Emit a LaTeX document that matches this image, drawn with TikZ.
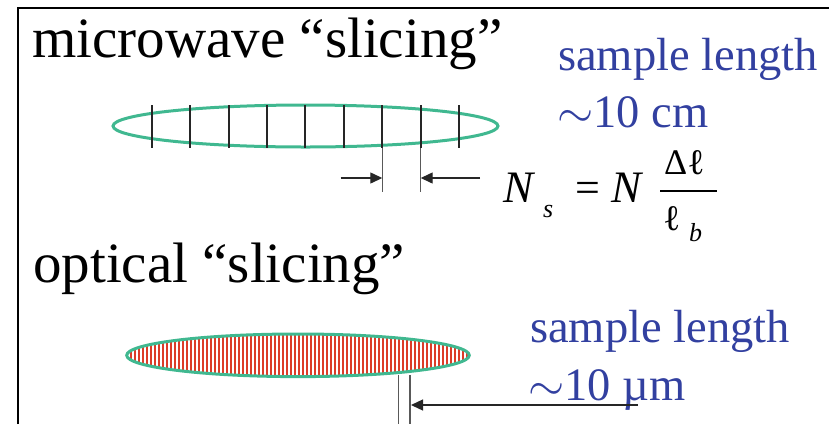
\RequirePackage{fix-cm}
\documentclass[tikz,border=0pt]{standalone}
\usepackage{fontspec}
\setmainfont{Liberation Serif}
\usetikzlibrary{arrows.meta}
\definecolor{blu}{RGB}{50,64,160}
\definecolor{grn}{RGB}{64,184,144}
\definecolor{stripered}{RGB}{220,60,40}
\tikzset{
  head/.style={anchor=base west,inner sep=0pt,font=\fontsize{57}{60}\selectfont},
  lbl/.style={anchor=base west,inner sep=0pt,text=blu,font=\fontsize{46.5}{50}\selectfont},
  fml/.style={anchor=base west,inner sep=0pt},
  tickline/.style={line width=2pt,black!85},
  extline/.style={line width=1.1pt,black!65},
  arr/.style={line width=1.3pt,black!85,-{Triangle[length=12pt,width=11pt]}},
  sampleoutline/.style={grn,line width=3pt}
}
\begin{document}
\begin{tikzpicture}[x=1pt,y=-1pt]
\useasboundingbox (0,0) rectangle (829,424);
% frame
\draw[line width=1.5pt] (18,424) -- (18,8) -- (829,8);
% texts
\node[head] (mw) at (32,57) {microwave “slicing”};
\node[head] (op) at (33,282) {optical “slicing”};
\node[lbl] (sl1) at (558,70) {sample length};
\node[lbl] (cm) at (557,127) {$\sim$10 cm};
\node[lbl] (sl2) at (530,342) {sample length};
\node[lbl] (um) at (528,400) {$\sim$10 µm};
% microwave sample
\draw[sampleoutline] (305.5,126) ellipse [x radius=192.5, y radius=21];
\foreach \i in {0,...,8} \draw[tickline] (151.7+38.4*\i,105) -- ++(0,43);
\coordinate (e1t) at (382.3,148);
\coordinate (e1b) at (382.3,192);
\coordinate (e2t) at (420.7,148);
\coordinate (e2b) at (420.7,192);
\draw[extline] (e1t) -- (e1b);
\draw[extline] (e2t) -- (e2b);
\coordinate (a1s) at (340.7,178);
\coordinate (a1e) at (382.3,178);
\coordinate (a2s) at (480,178);
\coordinate (a2e) at (420.7,178);
\draw[arr] (a1s) -- (a1e);
\draw[arr] (a2s) -- (a2e);
% formula
\node[fml,font=\fontsize{45}{48}\selectfont\itshape] (n1) at (503,202) {N};
\node[fml,font=\fontsize{26}{28}\selectfont\itshape] (ns) at (543,217) {s};
\node[fml,font=\fontsize{44}{48}\selectfont] (eq) at (575,202) {=};
\node[fml,font=\fontsize{45}{48}\selectfont\itshape] (n2) at (611,202) {N};
\coordinate (fb1) at (660,191);
\coordinate (fb2) at (717,191);
\draw[line width=1.8pt] (fb1) -- (fb2);
\node[fml,font=\fontsize{36}{40}\selectfont] (dl) at (664,174) {Δℓ};
\node[fml,font=\fontsize{36}{40}\selectfont] (lb) at (663,230) {ℓ};
\node[fml,font=\fontsize{26}{28}\selectfont\itshape] (bb) at (689,241) {b};
% optical sample
\begin{scope}
  \clip (298,355.3) ellipse [x radius=171.3, y radius=21.3];
  \foreach \x in {127,131,...,471} \draw[stripered,line width=2pt] (\x,330) -- (\x,380);
\end{scope}
\draw[sampleoutline] (298,355.3) ellipse [x radius=171.3, y radius=21.3];
\coordinate (f1t) at (398.7,375);
\coordinate (f1b) at (398.7,424);
\coordinate (f2t) at (410,375);
\coordinate (f2b) at (410,424);
\draw[extline] (f1t) -- (f1b);
\draw[extline] (f2t) -- (f2b);
\coordinate (a3s) at (638,405);
\coordinate (a3e) at (411,405);
\draw[arr] (a3s) -- (a3e);
\end{tikzpicture}
\end{document}
